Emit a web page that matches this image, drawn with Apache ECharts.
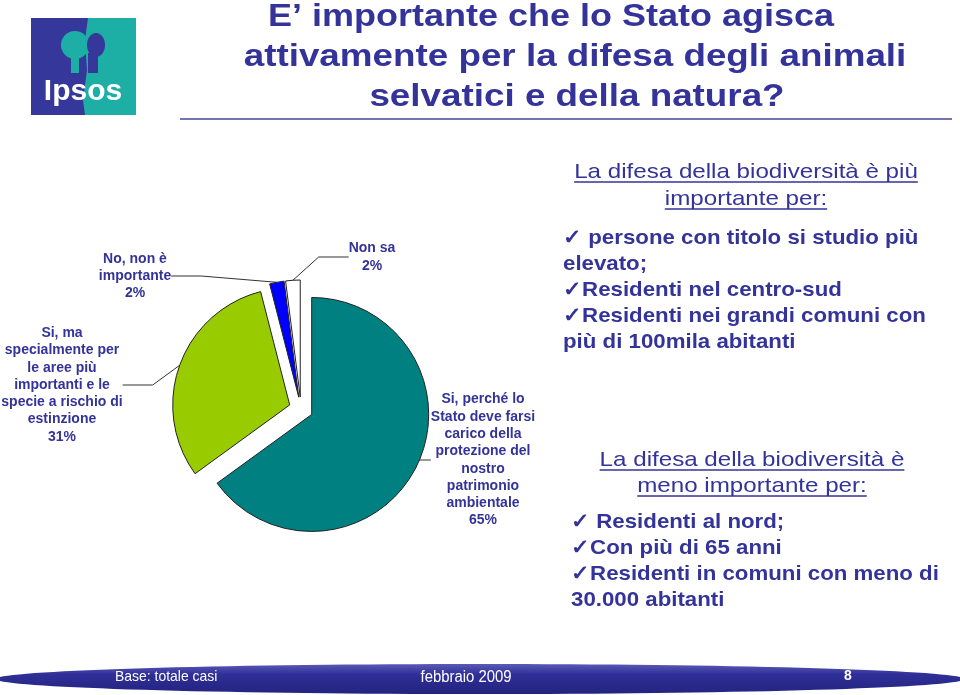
<!DOCTYPE html>
<html>
<head>
<meta charset="utf-8">
<script src="https://cdn.jsdelivr.net/npm/echarts@6/dist/echarts.min.js"></script>
<style>html,body{margin:0;padding:0;background:#fff}#c{width:960px;height:695px}</style>
</head>
<body>
<div id="c"></div>
<script>
// ---- data ----
const categories = [
  'Si, perché lo\nStato deve farsi\ncarico della\nprotezione del\nnostro\npatrimonio\nambientale',
  'Si, ma\nspecialmente per\nle aree più\nimportanti e le\nspecie a rischio di\nestinzione',
  'No, non è\nimportante',
  'Non sa'
];
const values = [65, 31, 2, 2];
const titleLines = ['E’ importante che lo Stato agisca', 'attivamente per la difesa degli animali', 'selvatici e della natura?'];
const moreHeader = ['La difesa della biodiversità è più', 'importante per:'];
const moreItems = ['\u2713 persone con titolo si studio più', 'elevato;', '\u2713Residenti nel centro-sud', '\u2713Residenti nei grandi comuni con', 'più di 100mila abitanti'];
const lessHeader = ['La difesa della biodiversità è', 'meno importante per:'];
const lessItems = ['\u2713 Residenti al nord;', '\u2713Con più di 65 anni', '\u2713Residenti in comuni con meno di', '30.000 abitanti'];
const footerTexts = ['Base: totale casi', 'febbraio 2009', '8'];

// ---- styles ----
const NAVY = '#333399';
const FONT = 'Arial, "Liberation Sans", sans-serif';
const sliceColors = ['#008080', '#99CC00', '#0000FF', '#FFFFFF'];
const labelPos = [[483, 460], [62, 385], [135, 276], [372, 257]];
const PIE_CENTER = [301, 409];
const PIE_R = 117;
const EXPLODE = 12;

const mctx = document.createElement('canvas').getContext('2d');
function tw(text, font) { mctx.font = font; return mctx.measureText(text).width; }

const graphics = [];
// logo
graphics.push({type: 'rect', shape: {x: 31, y: 18, width: 105, height: 97}, style: {fill: '#1DAFA6'}});
graphics.push({type: 'polygon', shape: {points: [[31,18],[88,18],[85,40],[87,70],[83,100],[85,115],[31,115]]}, style: {fill: '#35379A'}});
graphics.push({type: 'circle', shape: {cx: 75, cy: 45, r: 14}, style: {fill: '#1DAFA6'}});
graphics.push({type: 'rect', shape: {x: 71, y: 55, width: 8, height: 18}, style: {fill: '#1DAFA6'}});
graphics.push({type: 'ellipse', shape: {cx: 96, cy: 45, rx: 9, ry: 12}, style: {fill: '#35379A'}});
graphics.push({type: 'rect', shape: {x: 88, y: 53, width: 10, height: 20}, style: {fill: '#35379A'}});
graphics.push({type: 'text', x: 83, y: 92, style: {text: 'Ipsos', font: 'bold 30px ' + FONT, fill: '#fff', textAlign: 'center', textVerticalAlign: 'middle'}});
// title
const titleCx = [551, 575, 577];
const titleSx = [1.125, 1.15, 1.15];
titleLines.forEach((t, i) => {
  graphics.push({type: 'text', x: titleCx[i], y: 17 + i * 40, scaleX: titleSx[i],
    style: {text: t, font: 'bold 32px ' + FONT, fill: NAVY, textAlign: 'center', textVerticalAlign: 'middle'}});
});
graphics.push({type: 'line', shape: {x1: 180, y1: 119, x2: 952, y2: 119}, style: {stroke: '#7474B0', lineWidth: 2}});

function header(lines, cx, y0, dy) {
  const f = '21px ' + FONT;
  const sx = 1.15;
  lines.forEach((t, i) => {
    const y = y0 + i * dy;
    graphics.push({type: 'text', x: cx, y: y, scaleX: sx, style: {text: t, font: f, fill: NAVY, textAlign: 'center', textVerticalAlign: 'middle'}});
    const w = tw(t, f) * sx;
    graphics.push({type: 'line', shape: {x1: cx - w / 2, y1: y + 10, x2: cx + w / 2, y2: y + 10}, style: {stroke: NAVY, lineWidth: 1.3}});
  });
}
function items(lines, x, y0, dy) {
  lines.forEach((t, i) => {
    graphics.push({type: 'text', x: x, y: y0 + i * dy, scaleX: 1.06,
      style: {text: t, font: 'bold 21px ' + FONT, fill: NAVY, textAlign: 'left', textVerticalAlign: 'middle'}});
  });
}
header(moreHeader, 746, 172, 27);
items(moreItems, 563, 238, 26);
header(lessHeader, 752, 460, 26);
items(lessItems, 571, 522, 26);

// footer band
graphics.push({type: 'ellipse', shape: {cx: 480, cy: 679, rx: 484, ry: 15},
  style: {fill: new echarts.graphic.LinearGradient(0, 0, 0, 1, [{offset: 0, color: '#5A5AB8'}, {offset: 0.35, color: '#2F2F98'}, {offset: 1, color: '#23237F'}])}});
graphics.push({type: 'text', x: 115, y: 677, scaleX: 0.93, style: {text: footerTexts[0], font: '15px ' + FONT, fill: '#fff', textAlign: 'left', textVerticalAlign: 'middle'}});
graphics.push({type: 'text', x: 466, y: 678, scaleX: 0.93, style: {text: footerTexts[1], font: '16px ' + FONT, fill: '#fff', textAlign: 'center', textVerticalAlign: 'middle'}});
graphics.push({type: 'text', x: 848, y: 676, style: {text: footerTexts[2], font: 'bold 14px ' + FONT, fill: '#fff', textAlign: 'center', textVerticalAlign: 'middle'}});

const chart = echarts.init(document.getElementById('c'), null, {renderer: 'canvas'});
chart.setOption({
  animation: false,
  backgroundColor: '#fff',
  graphic: graphics,
  series: [{
    // exploded slices
    type: 'pie',
    center: PIE_CENTER,
    radius: [0, PIE_R],
    startAngle: 90,
    clockwise: true,
    selectedMode: 'multiple',
    selectedOffset: EXPLODE,
    silent: true,
    itemStyle: {borderColor: '#222', borderWidth: 1},
    select: {itemStyle: {borderColor: '#222', borderWidth: 1}},
    emphasis: {disabled: true},
    label: {show: false},
    labelLine: {show: false},
    data: categories.map((n, i) => ({name: n, value: values[i], selected: true, itemStyle: {color: sliceColors[i]}}))
  }, {
    // invisible carrier for labels and leader lines
    type: 'pie',
    center: PIE_CENTER,
    radius: [0, PIE_R + EXPLODE],
    startAngle: 90,
    clockwise: true,
    silent: true,
    selectedMode: false,
    itemStyle: {color: 'rgba(0,0,0,0)', borderWidth: 0},
    emphasis: {disabled: true},
    avoidLabelOverlap: false,
    label: {
      show: true,
      formatter: '{b}\n{c}%',
      color: NAVY,
      fontFamily: FONT,
      fontWeight: 'bold',
      fontSize: 14,
      lineHeight: 17.3,
      align: 'center'
    },
    labelLine: {show: true, lineStyle: {color: '#333', width: 1}},
    labelLayout: function (p) {
      const q = labelPos[p.dataIndex];
      return {x: q[0], y: q[1], align: 'center', verticalAlign: 'middle'};
    },
    data: categories.map((n, i) => ({name: n, value: values[i]}))
  }]
});
</script>
</body>
</html>
